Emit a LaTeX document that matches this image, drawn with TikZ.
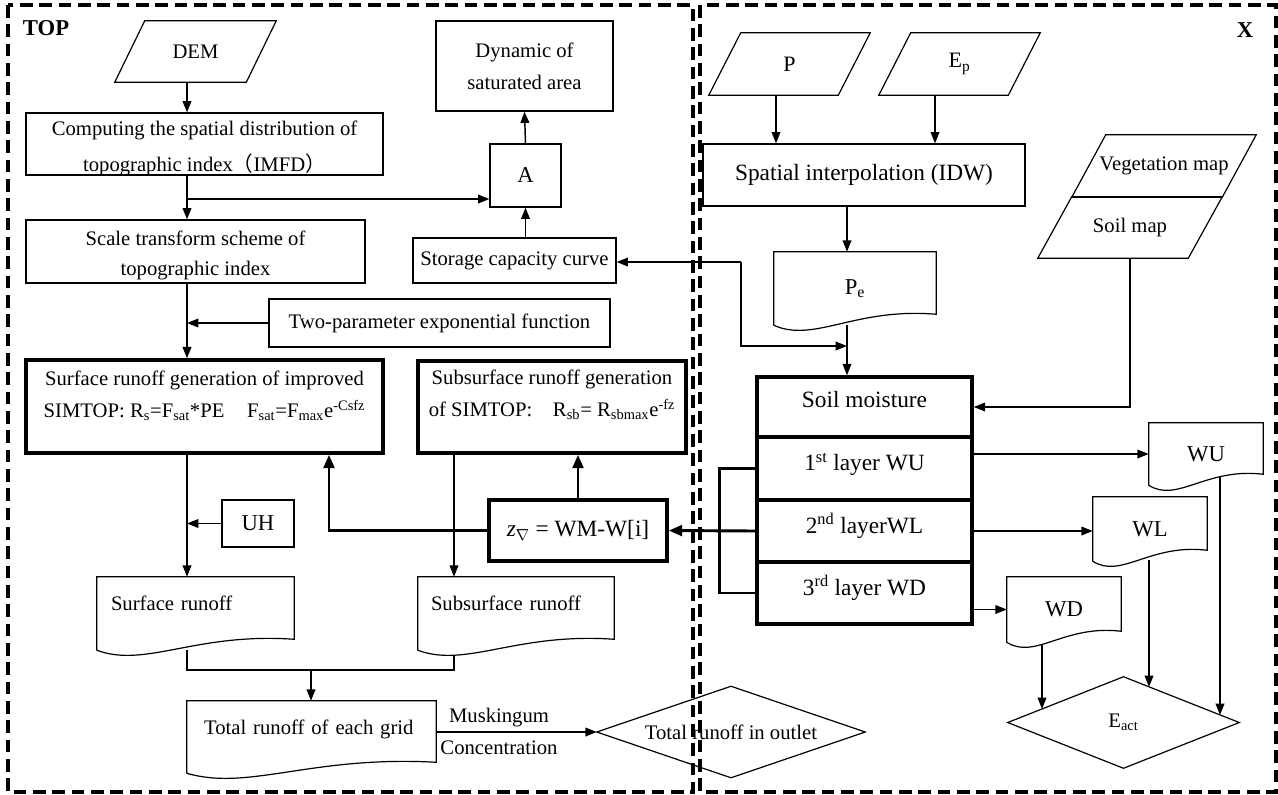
\documentclass[tikz,border=0pt]{standalone}
\usepackage{fontspec}
\setmainfont{Liberation Serif}
\newfontfamily\cjkfont{Noto Sans CJK SC}
\usetikzlibrary{calc,arrows.meta}
\tikzset{
  nbase/.style={inner sep=0pt, align=center, font=\fontsize{15.5}{24}\selectfont},
  box/.style={nbase, draw, line width=0.9pt},
  tbox/.style={nbase, draw, line width=2.6pt},
  shp/.style={nbase},
  wh/.style 2 args={minimum width=#1*0.75pt, minimum height=#2*0.75pt},
  ln/.style={line width=0.9pt},
  conn/.style={line width=1.1pt},
  arr/.style={line width=1.1pt, -{Triangle[length=8.5pt,width=6.5pt]}},
  tline/.style={line width=2.2pt},
  tarr/.style={line width=2.2pt, -{Triangle[length=10pt,width=8pt]}},
  outerframe/.style={line width=2.3pt, dash pattern=on 9.5pt off 5pt},
  big/.style={font=\fontsize{17.5}{24}\selectfont},
  midf/.style={font=\fontsize{17}{24}\selectfont},
  lbl/.style={inner sep=0pt, font=\fontsize{17}{20}\selectfont\bfseries},
}
\begin{document}
\begin{tikzpicture}[x=0.75pt,y=-0.75pt]
\useasboundingbox (0,0) rectangle (1278,794);

% frames
\draw[outerframe] (8,5) rectangle (693,792);
\draw[outerframe] (700,5) rectangle (1276,792);
\node[lbl] (toplab) at (46,28) {TOP};
\node[lbl] (xlab) at (1245,30) {X};

% ---------- left part ----------
\node[shp, wh={131}{61}] (DEM) at (195.5,51.5) {DEM};
\node[box, wh={357}{62}] (comp) at (204.5,144) {};
\node[nbase] (compt) at (204.5,148) {Computing the spatial distribution of\\[3pt]topographic index{\cjkfont （}IMFD{\cjkfont ）}};
\node[box, wh={177}{90}] (dyn) at (524.5,66) {Dynamic of\\saturated area};
\node[box, wh={71}{63}, midf] (A) at (525.5,175.5) {A};
\node[box, wh={203}{45}] (stor) at (514.5,260.5) {Storage capacity curve};
\node[box, wh={339}{63}] (scale) at (195.5,251.5) {};
\node[nbase] (scalet) at (195.5,255) {Scale transform scheme of\\[-1.5pt]topographic index};
\node[box, wh={341}{48}] (twop) at (439.5,323) {Two-parameter exponential function};
\node[tbox, wh={357}{93}] (surfgen) at (204.5,406.5) {};
\node[nbase] (surfgent) at (204.5,395.5) {Surface runoff generation of improved\\SIMTOP: R\textsubscript{s}=F\textsubscript{sat}*PE\hspace{1.1em}F\textsubscript{sat}=F\textsubscript{max}e\textsuperscript{-Csfz}};
\node[tbox, wh={268}{92}] (subgen) at (552,407) {};
\node[nbase] (subgent) at (552,394.5) {Subsurface runoff generation\\of SIMTOP:\hspace{1em}R\textsubscript{sb}= R\textsubscript{sbmax}e\textsuperscript{-fz}};
\node[tbox, wh={178}{61}, big] (zbox) at (578,530.5) {\textit{z}\textsubscript{$\nabla$} = WM-W[i]};
\node[box, wh={72}{47}, midf] (UH) at (258,523.5) {UH};
\node[shp, wh={197}{73}, text width=126.75pt, align=left, text height=11pt, text depth=15pt] (surf) at (195.5,613.5) {Surface runoff};
\node[shp, wh={196}{73}, text width=127.5pt, align=left, text height=11pt, text depth=15pt] (sub) at (516,613.5) {Subsurface runoff};
\node[shp, wh={249}{72}, text width=161pt, align=left, text height=11pt, text depth=15pt] (total) at (311.5,737) {Total runoff of each grid};
\node[shp, wh={268}{91}] (outlet) at (731,732) {Total runoff in outlet};
\node[nbase] (musk) at (499,718) {Muskingum};
\node[nbase] (conc) at (499,748) {Concentration};

% ---------- right part ----------
\node[shp, wh={129}{62}, font=\fontsize{16.5}{20}\selectfont] (P) at (789.5,64) {P};
\node[shp, wh={129}{62}, font=\fontsize{16.5}{20}\selectfont] (Ep) at (959.5,64) {E\textsubscript{p}};
\node[box, wh={322}{62}, big] (spat) at (864,175) {Spatial interpolation (IDW)};
\node[shp, wh={162}{73}, midf] (Pe) at (855,288.5) {P\textsubscript{e}};
\node[shp, wh={150}{62}] (vegmap) at (1164,166) {Vegetation map};
\node[shp, wh={150}{61}] (soilmap) at (1130,227.5) {Soil map};
\node[tbox, wh={215}{60}, big, text height=12pt, text depth=11pt] (soilm) at (864.5,407) {Soil moisture};
\node[tbox, wh={215}{63}, big, text height=12pt, text depth=9pt] (l1) at (864.5,468.5) {1\textsuperscript{st} layer WU};
\node[tbox, wh={215}{62}, big, text height=12pt, text depth=9pt] (l2) at (864.5,531) {2\textsuperscript{nd} layerWL};
\node[tbox, wh={215}{62}, big, text height=12pt, text depth=9pt] (l3) at (864.5,593) {3\textsuperscript{rd} layer WD};
\node[shp, wh={114}{62}, midf] (WU) at (1206,454) {WU};
\node[shp, wh={114}{64}, midf] (WL) at (1150,529) {WL};
\node[shp, wh={114}{65}, midf] (WD) at (1064,609.5) {WD};
\node[shp, wh={231}{91}] (Eact) at (1123.5,722.5) {E\textsubscript{act}};

% ---------- outlines of special shapes ----------
\foreach \n/\s in {DEM/15, P/16, Ep/16, vegmap/17, soilmap/17}{
  \draw[ln] ($(\n.south west)+(-\s,0)$) -- ($(\n.north west)+(\s,0)$) -- ($(\n.north east)+(\s,0)$) -- ($(\n.south east)+(-\s,0)$) -- cycle;
}
\foreach \n in {surf, sub, total, Pe, WU, WL, WD}{
  \draw[ln] (\n.south west) -- (\n.north west) -- (\n.north east) -- ($(\n.south east)+(0,-11)$)
    .. controls ($(\n.south west)!0.5!(\n.south east)+(0,-18)$) and ($(\n.south west)!0.25!(\n.south east)+(0,18)$) .. (\n.south west);
}
\foreach \n in {outlet, Eact}{
  \draw[ln] (\n.west) -- (\n.north) -- (\n.east) -- (\n.south) -- cycle;
}

% ---------- connectors left ----------
\coordinate (cx) at (187,0);
\coordinate (br) at (187,199);
\coordinate (zx) at (329,0);
\coordinate (sx) at (454,0);
\coordinate (m) at (311,670);
\draw[arr] (DEM.south -| cx) -- (comp.north -| cx);
\draw[arr] (comp.south -| cx) -- (scale.north -| cx);
\draw[arr] (br) -- (br -| A.west);
\draw[arr] (A.north) -- (dyn.south);
\draw[arr] (A.south |- stor.north) -- (A.south);
\draw[arr] (scale.south -| cx) -- (surfgen.north -| cx);
\draw[arr] (twop.west) -- (twop.west -| cx);
\draw[arr] (surfgen.south -| cx) -- (surf.north -| cx);
\draw[arr] (UH.west) -- (UH.west -| cx);
\draw[tarr] (zbox.west) -| (surfgen.south -| zx);
\draw[tarr] (zbox.north) -- (zbox.north |- subgen.south);
\draw[arr] (subgen.south -| sx) -- (sub.north -| sx);
\draw[conn] (surf.south -| cx) |- (m) -| ($(sub.south -| sx)+(0,5)$);
\draw[arr] (m) -- (m |- total.north);
\draw[arr] (outlet.west -| total.east) -- (outlet.west);

% ---------- connectors right ----------
\coordinate (pcol) at (776,0);
\coordinate (ecol) at (935,0);
\coordinate (pecol) at (847,0);
\coordinate (J) at (741,262);
\coordinate (K) at (847,346);
\coordinate (e1) at (1042,709);
\coordinate (e2) at (1149,687);
\coordinate (e3) at (1220,715);
\draw[arr] (P.south -| pcol) -- (spat.north -| pcol);
\draw[arr] (Ep.south -| ecol) -- (spat.north -| ecol);
\draw[arr] (spat.south -| pecol) -- (Pe.north -| pecol);
\draw[arr] (J) -- (J -| stor.east);
\draw[arr] (J) |- (K);
\draw[arr] (Pe.south -| K) -- (soilm.north -| K);
\draw[arr] (soilmap.south) |- (soilm.east);
\draw[tline] (l1.west) -- ++(-36,0) |- (l3.west);
\draw[tarr] (l2.west) -- (zbox.east);
\draw[arr] (l1.east |- WU.west) -- (WU.west);
\draw[arr] (l2.east) -- (l2.east -| WL.west);
\draw[arr] (WD.west -| l3.east) -- (WD.west);
\draw[arr] ($(WD.south -| e1)+(0,2)$) -- (e1);
\draw[arr] ($(WL.south -| e2)+(0,-1)$) -- (e2);
\draw[arr] ($(WU.south -| e3)+(0,-8)$) -- (e3);
\end{tikzpicture}
\end{document}
